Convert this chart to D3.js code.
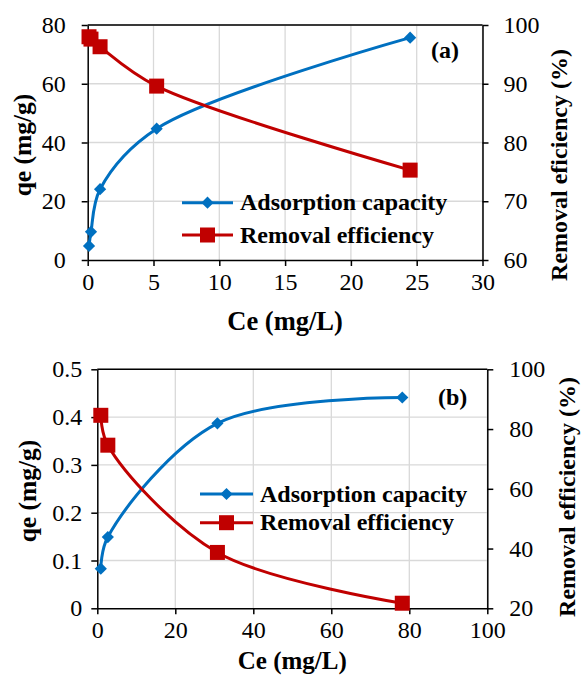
<!DOCTYPE html>
<html>
<head>
<meta charset="utf-8">
<script src="https://cdn.jsdelivr.net/npm/d3@7"></script>
<style>
  body { margin: 0; background: #fff; }
  svg text { font-family: "Times New Roman", "Liberation Serif", serif; fill: #000; }
</style>
</head>
<body>
<svg id="chart" width="582" height="675"></svg>
<script>
// ---- data ----
// panel (a)
const ceA = [0.1, 0.25, 0.94, 5.24, 24.5];
const qeA = [4.8, 9.6, 24.1, 44.7, 75.7];
const reA = [98.0, 97.6, 96.3, 89.6, 75.3];
const xTicksA = [0, 5, 10, 15, 20, 25, 30];
const yTicksA = [0, 20, 40, 60, 80];
const rTicksA = [60, 70, 80, 90, 100];

// panel (b)
const ceB = [0.9, 2.7, 30.8, 78.2];
const qeB = [0.083, 0.149, 0.387, 0.441];
const reB = [84.6, 74.6, 38.7, 21.7];
const xTicksB = [0, 20, 40, 60, 80, 100];
const yTicksB = [0, 0.1, 0.2, 0.3, 0.4, 0.5];
const rTicksB = [20, 40, 60, 80, 100];

const seriesNames = ['Adsorption capacity', 'Removal efficiency'];

const BLUE = '#0070c0';
const RED = '#c00000';
const GRID = '#d9d9d9';
const FONT = '"Times New Roman", "Liberation Serif", serif';

const svg = d3.select('#chart');

// one panel = two y axes sharing Ce
function drawPanel(opt) {
    const { box, ce, qe, re, xTicks, yTicks, rTicks } = opt;
    const g = svg.append('g');

    const x = d3.scaleLinear().domain(d3.extent(xTicks)).range([box.left, box.right]);
    const y = d3.scaleLinear().domain(d3.extent(yTicks)).range([box.bottom, box.top]);
    const y2 = d3.scaleLinear().domain(d3.extent(rTicks)).range([box.bottom, box.top]);

    // gridlines
    g.append('g')
        .selectAll('line')
        .data(xTicks.slice(1))
        .join('line')
        .attr('x1', (d) => x(d)).attr('x2', (d) => x(d))
        .attr('y1', box.top).attr('y2', box.bottom)
        .attr('stroke', GRID).attr('stroke-width', 1.3);
    g.append('g')
        .selectAll('line')
        .data(yTicks.slice(1))
        .join('line')
        .attr('x1', box.left).attr('x2', box.right)
        .attr('y1', (d) => y(d)).attr('y2', (d) => y(d))
        .attr('stroke', GRID).attr('stroke-width', 1.3);

    // top border
    g.append('line')
        .attr('x1', box.left).attr('x2', box.right)
        .attr('y1', box.top).attr('y2', box.top)
        .attr('stroke', '#000').attr('stroke-width', 1.5);

    const fmt = opt.yFormat || ((d) => d);

    // axes
    const ax = g.append('g')
        .attr('transform', `translate(0,${box.bottom})`)
        .call(d3.axisBottom(x).tickValues(xTicks).tickSize(6).tickSizeOuter(0).tickPadding(6));
    const ay = g.append('g')
        .attr('transform', `translate(${box.left},0)`)
        .call(d3.axisLeft(y).tickValues(yTicks).tickFormat(fmt).tickSize(6).tickSizeOuter(0).tickPadding(opt.yPad));
    const ar = g.append('g')
        .attr('transform', `translate(${box.right},0)`)
        .call(d3.axisRight(y2).tickValues(rTicks).tickSize(6).tickSizeOuter(0).tickPadding(opt.rPad));
    [ax, ay, ar].forEach((a) => {
        a.attr('font-family', FONT).attr('font-size', 24);
        a.select('.domain').attr('stroke', '#000').attr('stroke-width', 1.5);
        a.selectAll('.tick line').attr('stroke', '#000').attr('stroke-width', 1.5);
    });
    ax.selectAll('.tick text').attr('dy', '0.75em');

    // series, smoothed like the spreadsheet
    const line = d3.line().curve(d3.curveCatmullRom.alpha(0.5));
    const ptsQ = ce.map((c, i) => [x(c), y(qe[i])]);
    const ptsR = ce.map((c, i) => [x(c), y2(re[i])]);

    g.append('path').attr('d', line(ptsQ))
        .attr('fill', 'none').attr('stroke', BLUE).attr('stroke-width', 3);
    g.append('path').attr('d', line(ptsR))
        .attr('fill', 'none').attr('stroke', RED).attr('stroke-width', 3);

    const diamond = d3.symbol().type(d3.symbolDiamond2).size(95);
    g.selectAll('path.dq')
        .data(ptsQ)
        .join('path')
        .attr('class', 'dq')
        .attr('d', diamond)
        .attr('transform', (d) => `translate(${d[0]},${d[1]})`)
        .attr('fill', BLUE);
    g.selectAll('rect.sr')
        .data(ptsR)
        .join('rect')
        .attr('class', 'sr')
        .attr('x', (d) => d[0] - 7.5).attr('y', (d) => d[1] - 7.5)
        .attr('width', 15).attr('height', 15)
        .attr('fill', RED);

    // legend
    const lg = g.append('g');
    const leg = [
        { name: seriesNames[0], color: BLUE, y: opt.legend.y1, mark: 'd' },
        { name: seriesNames[1], color: RED, y: opt.legend.y2, mark: 's' },
    ];
    leg.forEach((l) => {
        lg.append('line')
            .attr('x1', opt.legend.x1).attr('x2', opt.legend.x2)
            .attr('y1', l.y).attr('y2', l.y)
            .attr('stroke', l.color).attr('stroke-width', 3);
        const mx = (opt.legend.x1 + opt.legend.x2) / 2;
        if (l.mark === 'd') {
            lg.append('path').attr('d', diamond)
                .attr('transform', `translate(${mx},${l.y})`).attr('fill', l.color);
        } else {
            lg.append('rect').attr('x', mx - 7.5).attr('y', l.y - 7.5)
                .attr('width', 15).attr('height', 15).attr('fill', l.color);
        }
        lg.append('text')
            .attr('x', opt.legend.x2 + 7).attr('y', l.y)
            .attr('dy', '0.32em')
            .attr('font-size', 24).attr('font-weight', 'bold')
            .text(l.name);
    });

    // panel tag
    g.append('text')
        .attr('x', opt.tag.x).attr('y', opt.tag.y).attr('dy', '0.35em')
        .attr('font-size', 24).attr('font-weight', 'bold')
        .text(opt.tag.text);

    // axis titles
    g.append('text')
        .attr('x', (box.left + box.right) / 2).attr('y', opt.xTitle.y)
        .attr('text-anchor', 'middle')
        .attr('font-size', opt.xTitle.size).attr('font-weight', 'bold')
        .text('Ce (mg/L)');
    g.append('text')
        .attr('transform', `translate(${opt.yTitle.x},${opt.yTitle.y}) rotate(-90)`)
        .attr('text-anchor', 'middle').attr('dy', '0.35em')
        .attr('font-size', 25.5).attr('font-weight', 'bold')
        .text('qe (mg/g)');
    g.append('text')
        .attr('transform', `translate(${opt.rTitle.x},${opt.rTitle.y}) rotate(-90)`)
        .attr('text-anchor', 'middle').attr('dy', '0.35em')
        .attr('font-size', 24).attr('font-weight', 'bold')
        .text(opt.rTitle.text);
}

drawPanel({
    box: { left: 87.7, right: 482.5, top: 25, bottom: 260 },
    ce: ceA, qe: qeA, re: reA,
    xTicks: xTicksA, yTicks: yTicksA, rTicks: rTicksA,
    yPad: 16, rPad: 15,
    legend: { x1: 182, x2: 233, y1: 202.7, y2: 235 },
    tag: { x: 431, y: 50, text: '(a)' },
    xTitle: { y: 330, size: 26.5 },
    yTitle: { x: 22, y: 145 },
    rTitle: { x: 559, y: 165, text: 'Removal eficiency (%)' },
});

drawPanel({
    box: { left: 97.3, right: 487.3, top: 369.3, bottom: 608.3 },
    ce: ceB, qe: qeB, re: reB,
    xTicks: xTicksB, yTicks: yTicksB, rTicks: rTicksB,
    yFormat: (d) => (d === 0 ? '0' : d3.format('.1f')(d)),
    yPad: 9, rPad: 16,
    legend: { x1: 200, x2: 253, y1: 494, y2: 522.7 },
    tag: { x: 438, y: 397, text: '(b)' },
    xTitle: { y: 669, size: 25 },
    yTitle: { x: 27, y: 491 },
    rTitle: { x: 567, y: 497, text: 'Removal efficiency (%)' },
});
</script>
</body>
</html>
